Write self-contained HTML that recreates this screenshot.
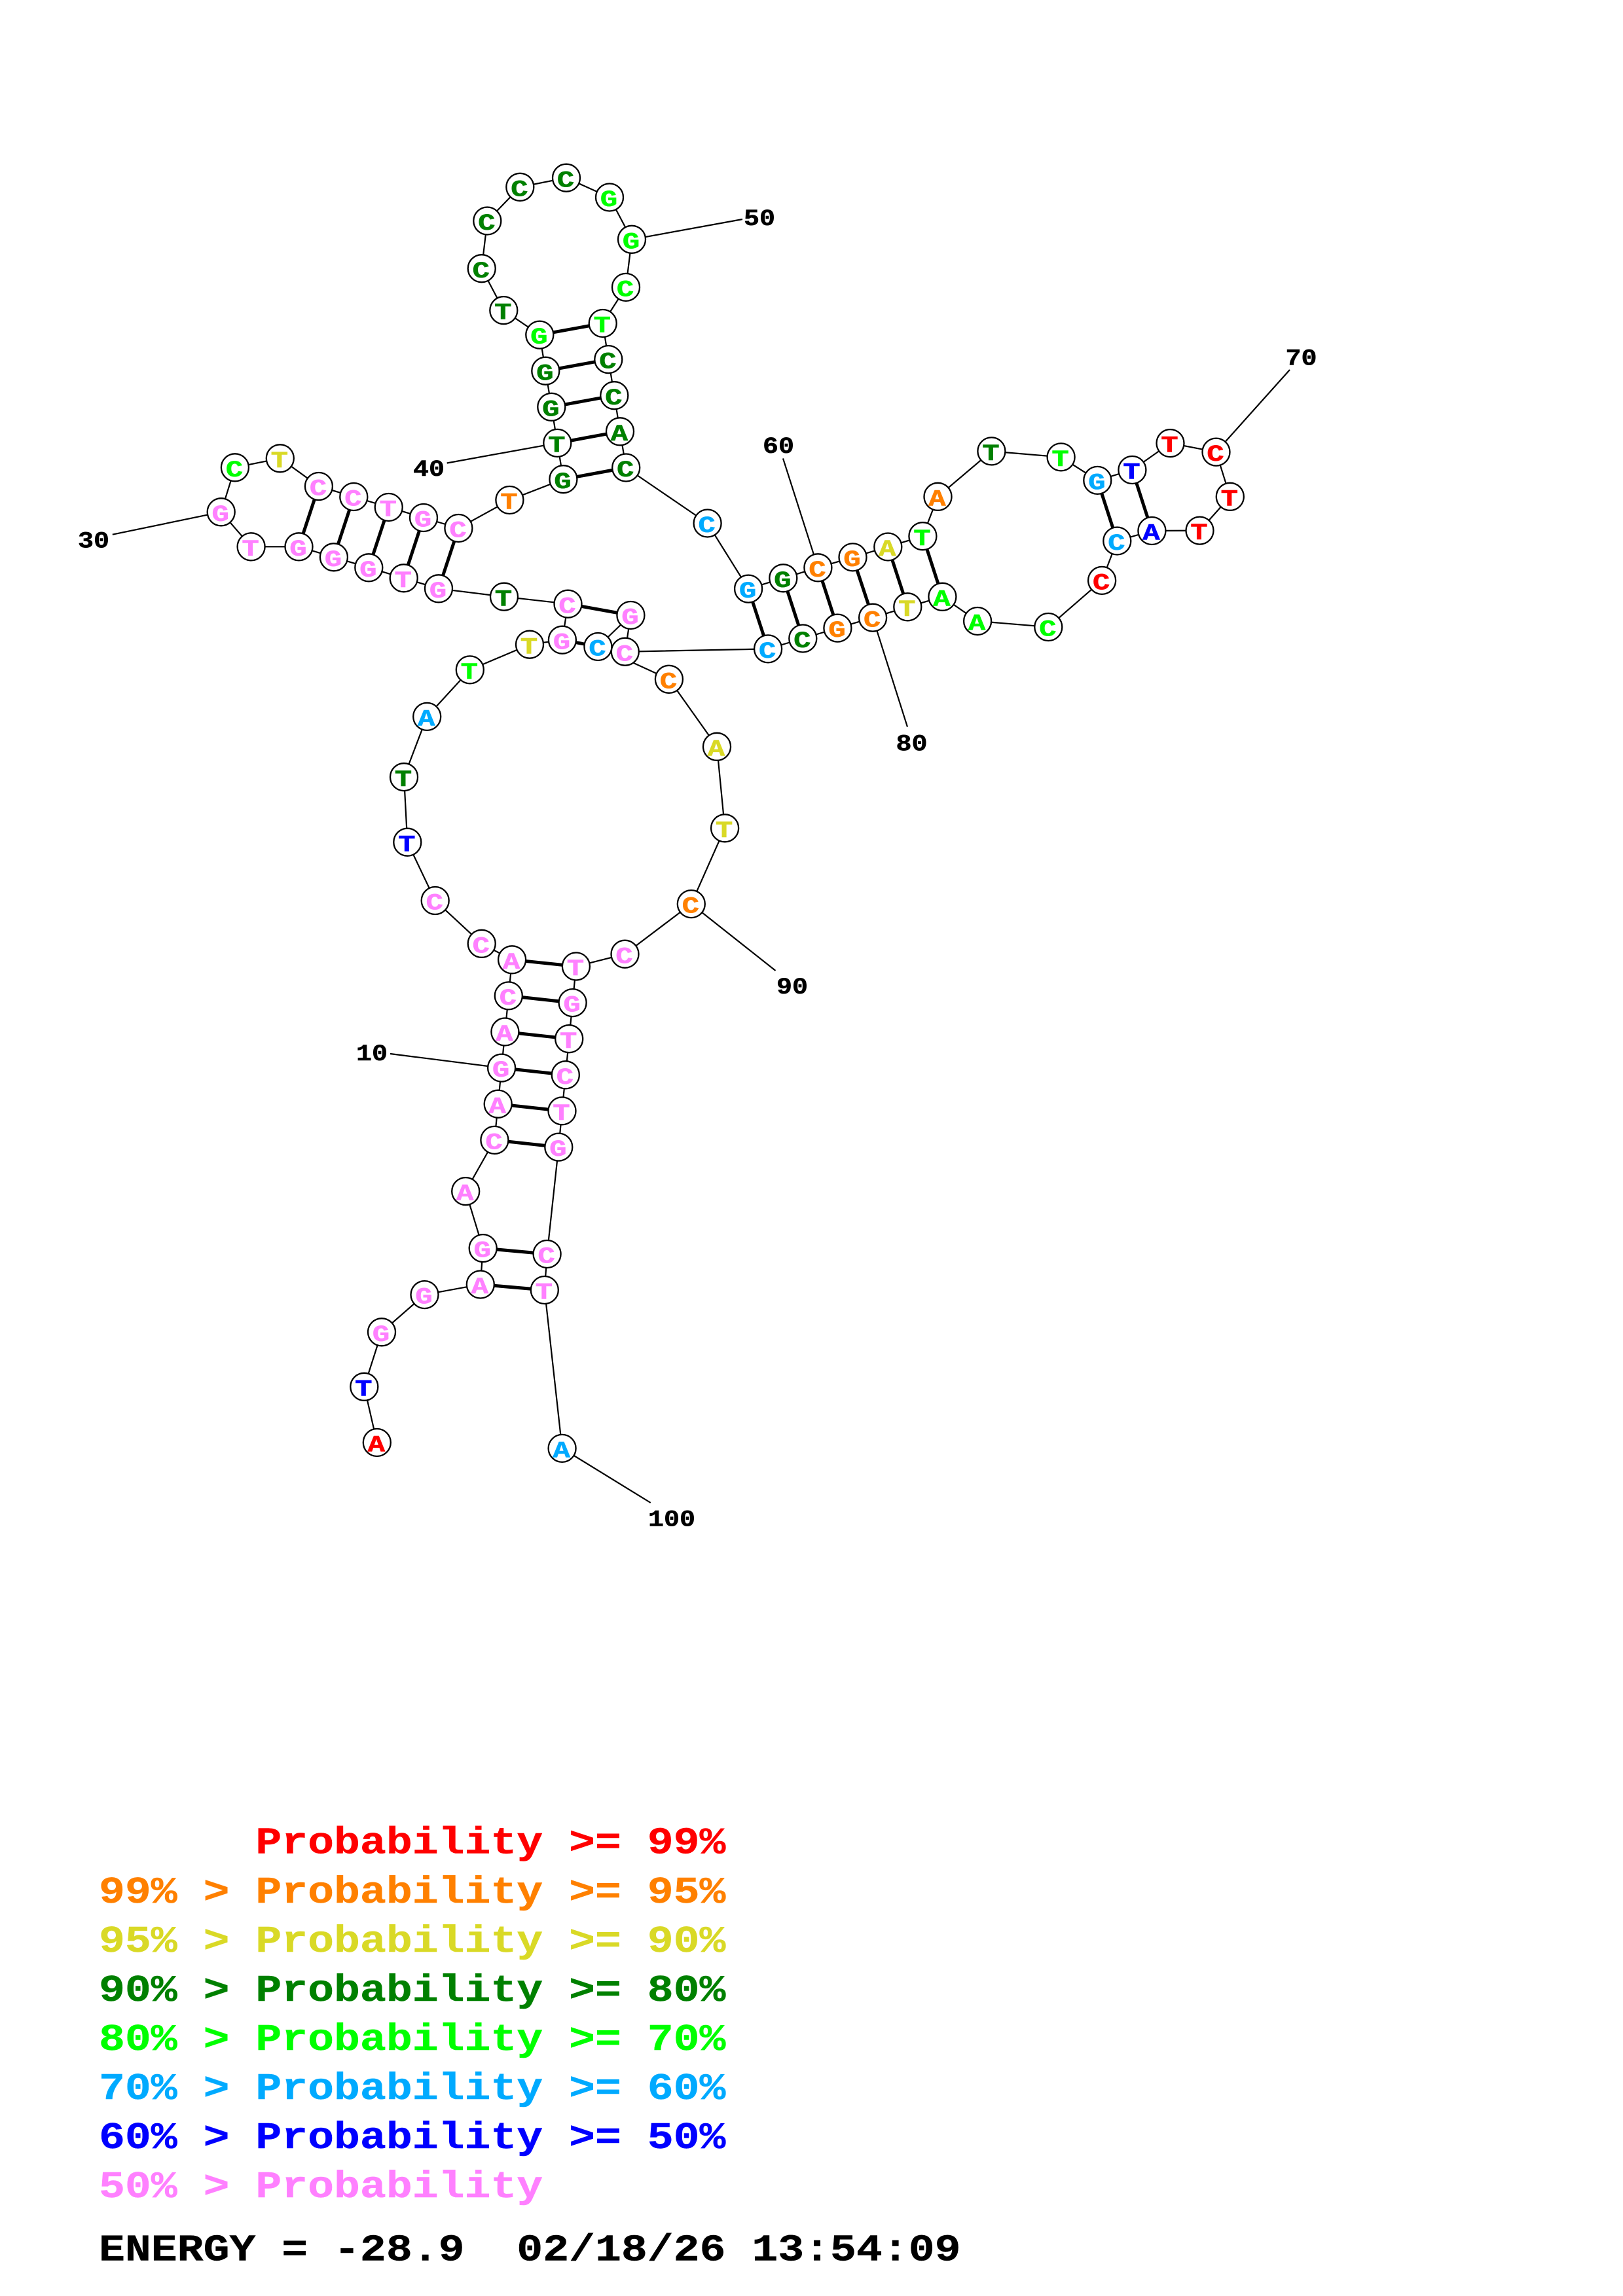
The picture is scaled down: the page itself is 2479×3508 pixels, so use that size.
<!DOCTYPE html>
<html><head><meta charset="utf-8"><style>
html,body{margin:0;padding:0;background:#fff}
svg{display:block}
text{font-family:"Liberation Mono",monospace;font-weight:bold;stroke-width:0}
.n circle{fill:#fff;stroke:#000;stroke-width:2.3}
.n text{font-size:44px;text-anchor:middle;stroke-width:.7;transform:translate(-1px,13.6px) scale(1,.8)}
.l text{font-size:40px;text-anchor:middle;fill:#000;stroke:#000;stroke-width:.6}
.g text{font-size:66.5px;white-space:pre;stroke-width:.5}
.r{fill:#f00;stroke:#f00}.o{fill:#ff8000;stroke:#ff8000}.y{fill:#d9d926;stroke:#d9d926}.d{fill:#008000;stroke:#008000}.e{fill:#0f0;stroke:#0f0}.b{fill:#0af;stroke:#0af}.u{fill:#00f;stroke:#00f}.p{fill:#ff80ff;stroke:#ff80ff}
</style></head><body>
<svg xmlns="http://www.w3.org/2000/svg" width="2479" height="3508" viewBox="0 0 2479 3508">
<rect width="2479" height="3508" fill="#fff"/>
<path fill="none" stroke="#000" stroke-width="2.2" d="M575.8 2204L556.3 2118.8L583 2035.3L648.5 1978.1L733.8 1962.5L737.7 1907.1L711.2 1820.1L755.4 1741.9L760.7 1686.7L766.1 1631.6L771.4 1576.5L776.8 1521.4L782.1 1466.3L735.7 1441.8L664.7 1376L622.3 1286.7L617 1187.2L652.2 1094.9L717.8 1023.4L809 984.7L858.9 977.7L867.5 922.7L770 911.7L670 899.3L616.7 883.3L563.3 867.3L509.9 851.3L456.5 835.3L383.6 835.3L337.7 782.3L358.9 714.3L427.8 700.3L486.9 743L540.3 759L593.7 775L647 791L700.4 807L778.4 764L860.4 732.2L851.3 676.9L842.3 621.8L833.3 566.7L824.3 511.6L769.3 474.1L735.7 410.2L744.3 337.5L794.3 285.8L865 271.7L931 301.5L965 365.8L956 438.9L920.7 494L929.3 549.1L938.3 604.2L947 659.3L956.2 714.5L1080.6 799.5L1143.1 899.6L1196.3 883.3L1249.4 867.3L1302.5 851.4L1356.3 835.5L1409.4 819.2L1432.5 758.8L1514.4 689.4L1620.6 698.4L1676.3 733.9L1729.4 718L1787.5 677.1L1857.5 690.6L1878.8 758.8L1832.5 810.6L1759.4 811L1706.3 826.5L1683.1 886.9L1601.3 958L1493.1 949L1439.4 911.8L1386.3 927.3L1333.1 943.7L1279.4 959.6L1226.3 975.5L1173.1 991.4L954.8 995.7L963.4 940L913.4 988L1021.9 1037.8L1095 1140.8L1107.1 1265.3L1055.8 1381.1L954.5 1457.7L879.9 1476.5L874.6 1532.1L869.2 1587.2L863.8 1642.3L858.5 1697.4L853.3 1752.6L835.6 1916L831.8 1971L858.6 2212.9"/>
<path fill="none" stroke="#000" stroke-width="2.2" d="M766.1 1631.6L596 1610M337.7 782.3L171.8 816.7M851.3 676.9L682.7 707.5M965 365.8L1134 335M1249.4 867.3L1196 700.4M1857.5 690.6L1970 565M1333.1 943.7L1386 1110.6M1055.8 1381.1L1184.5 1483M858.6 2212.9L993.7 2296"/>
<path fill="none" stroke="#000" stroke-width="5" d="M733.8 1962.5L831.8 1971M737.7 1907.1L835.6 1916M755.4 1741.9L853.3 1752.6M760.7 1686.7L858.5 1697.4M766.1 1631.6L863.8 1642.3M771.4 1576.5L869.2 1587.2M776.8 1521.4L874.6 1532.1M782.1 1466.3L879.9 1476.5M858.9 977.7L913.4 988M867.5 922.7L963.4 940M486.9 743L456.5 835.3M540.3 759L509.9 851.3M593.7 775L563.3 867.3M647 791L616.7 883.3M700.4 807L670 899.3M860.4 732.2L956.2 714.5M851.3 676.9L947 659.3M842.3 621.8L938.3 604.2M833.3 566.7L929.3 549.1M824.3 511.6L920.7 494M1143.1 899.6L1173.1 991.4M1196.3 883.3L1226.3 975.5M1249.4 867.3L1279.4 959.6M1302.5 851.4L1333.1 943.7M1356.3 835.5L1386.3 927.3M1409.4 819.2L1439.4 911.8M1676.3 733.9L1706.3 826.5M1729.4 718L1759.4 811"/>
<g class="n">
<g class="r" transform="translate(575.8 2204)"><circle r="21"/><text>A</text></g>
<g class="u" transform="translate(556.3 2118.8)"><circle r="21"/><text>T</text></g>
<g class="p" transform="translate(583 2035.3)"><circle r="21"/><text>G</text></g>
<g class="p" transform="translate(648.5 1978.1)"><circle r="21"/><text>G</text></g>
<g class="p" transform="translate(733.8 1962.5)"><circle r="21"/><text>A</text></g>
<g class="p" transform="translate(737.7 1907.1)"><circle r="21"/><text>G</text></g>
<g class="p" transform="translate(711.2 1820.1)"><circle r="21"/><text>A</text></g>
<g class="p" transform="translate(755.4 1741.9)"><circle r="21"/><text>C</text></g>
<g class="p" transform="translate(760.7 1686.7)"><circle r="21"/><text>A</text></g>
<g class="p" transform="translate(766.1 1631.6)"><circle r="21"/><text>G</text></g>
<g class="p" transform="translate(771.4 1576.5)"><circle r="21"/><text>A</text></g>
<g class="p" transform="translate(776.8 1521.4)"><circle r="21"/><text>C</text></g>
<g class="p" transform="translate(782.1 1466.3)"><circle r="21"/><text>A</text></g>
<g class="p" transform="translate(735.7 1441.8)"><circle r="21"/><text>C</text></g>
<g class="p" transform="translate(664.7 1376)"><circle r="21"/><text>C</text></g>
<g class="u" transform="translate(622.3 1286.7)"><circle r="21"/><text>T</text></g>
<g class="d" transform="translate(617 1187.2)"><circle r="21"/><text>T</text></g>
<g class="b" transform="translate(652.2 1094.9)"><circle r="21"/><text>A</text></g>
<g class="e" transform="translate(717.8 1023.4)"><circle r="21"/><text>T</text></g>
<g class="y" transform="translate(809 984.7)"><circle r="21"/><text>T</text></g>
<g class="p" transform="translate(858.9 977.7)"><circle r="21"/><text>G</text></g>
<g class="p" transform="translate(867.5 922.7)"><circle r="21"/><text>C</text></g>
<g class="d" transform="translate(770 911.7)"><circle r="21"/><text>T</text></g>
<g class="p" transform="translate(670 899.3)"><circle r="21"/><text>G</text></g>
<g class="p" transform="translate(616.7 883.3)"><circle r="21"/><text>T</text></g>
<g class="p" transform="translate(563.3 867.3)"><circle r="21"/><text>G</text></g>
<g class="p" transform="translate(509.9 851.3)"><circle r="21"/><text>G</text></g>
<g class="p" transform="translate(456.5 835.3)"><circle r="21"/><text>G</text></g>
<g class="p" transform="translate(383.6 835.3)"><circle r="21"/><text>T</text></g>
<g class="p" transform="translate(337.7 782.3)"><circle r="21"/><text>G</text></g>
<g class="e" transform="translate(358.9 714.3)"><circle r="21"/><text>C</text></g>
<g class="y" transform="translate(427.8 700.3)"><circle r="21"/><text>T</text></g>
<g class="p" transform="translate(486.9 743)"><circle r="21"/><text>C</text></g>
<g class="p" transform="translate(540.3 759)"><circle r="21"/><text>C</text></g>
<g class="p" transform="translate(593.7 775)"><circle r="21"/><text>T</text></g>
<g class="p" transform="translate(647 791)"><circle r="21"/><text>G</text></g>
<g class="p" transform="translate(700.4 807)"><circle r="21"/><text>C</text></g>
<g class="o" transform="translate(778.4 764)"><circle r="21"/><text>T</text></g>
<g class="d" transform="translate(860.4 732.2)"><circle r="21"/><text>G</text></g>
<g class="d" transform="translate(851.3 676.9)"><circle r="21"/><text>T</text></g>
<g class="d" transform="translate(842.3 621.8)"><circle r="21"/><text>G</text></g>
<g class="d" transform="translate(833.3 566.7)"><circle r="21"/><text>G</text></g>
<g class="e" transform="translate(824.3 511.6)"><circle r="21"/><text>G</text></g>
<g class="d" transform="translate(769.3 474.1)"><circle r="21"/><text>T</text></g>
<g class="d" transform="translate(735.7 410.2)"><circle r="21"/><text>C</text></g>
<g class="d" transform="translate(744.3 337.5)"><circle r="21"/><text>C</text></g>
<g class="d" transform="translate(794.3 285.8)"><circle r="21"/><text>C</text></g>
<g class="d" transform="translate(865 271.7)"><circle r="21"/><text>C</text></g>
<g class="e" transform="translate(931 301.5)"><circle r="21"/><text>G</text></g>
<g class="e" transform="translate(965 365.8)"><circle r="21"/><text>G</text></g>
<g class="e" transform="translate(956 438.9)"><circle r="21"/><text>C</text></g>
<g class="e" transform="translate(920.7 494)"><circle r="21"/><text>T</text></g>
<g class="d" transform="translate(929.3 549.1)"><circle r="21"/><text>C</text></g>
<g class="d" transform="translate(938.3 604.2)"><circle r="21"/><text>C</text></g>
<g class="d" transform="translate(947 659.3)"><circle r="21"/><text>A</text></g>
<g class="d" transform="translate(956.2 714.5)"><circle r="21"/><text>C</text></g>
<g class="b" transform="translate(1080.6 799.5)"><circle r="21"/><text>C</text></g>
<g class="b" transform="translate(1143.1 899.6)"><circle r="21"/><text>G</text></g>
<g class="d" transform="translate(1196.3 883.3)"><circle r="21"/><text>G</text></g>
<g class="o" transform="translate(1249.4 867.3)"><circle r="21"/><text>C</text></g>
<g class="o" transform="translate(1302.5 851.4)"><circle r="21"/><text>G</text></g>
<g class="y" transform="translate(1356.3 835.5)"><circle r="21"/><text>A</text></g>
<g class="e" transform="translate(1409.4 819.2)"><circle r="21"/><text>T</text></g>
<g class="o" transform="translate(1432.5 758.8)"><circle r="21"/><text>A</text></g>
<g class="d" transform="translate(1514.4 689.4)"><circle r="21"/><text>T</text></g>
<g class="e" transform="translate(1620.6 698.4)"><circle r="21"/><text>T</text></g>
<g class="b" transform="translate(1676.3 733.9)"><circle r="21"/><text>G</text></g>
<g class="u" transform="translate(1729.4 718)"><circle r="21"/><text>T</text></g>
<g class="r" transform="translate(1787.5 677.1)"><circle r="21"/><text>T</text></g>
<g class="r" transform="translate(1857.5 690.6)"><circle r="21"/><text>C</text></g>
<g class="r" transform="translate(1878.8 758.8)"><circle r="21"/><text>T</text></g>
<g class="r" transform="translate(1832.5 810.6)"><circle r="21"/><text>T</text></g>
<g class="u" transform="translate(1759.4 811)"><circle r="21"/><text>A</text></g>
<g class="b" transform="translate(1706.3 826.5)"><circle r="21"/><text>C</text></g>
<g class="r" transform="translate(1683.1 886.9)"><circle r="21"/><text>C</text></g>
<g class="e" transform="translate(1601.3 958)"><circle r="21"/><text>C</text></g>
<g class="e" transform="translate(1493.1 949)"><circle r="21"/><text>A</text></g>
<g class="e" transform="translate(1439.4 911.8)"><circle r="21"/><text>A</text></g>
<g class="y" transform="translate(1386.3 927.3)"><circle r="21"/><text>T</text></g>
<g class="o" transform="translate(1333.1 943.7)"><circle r="21"/><text>C</text></g>
<g class="o" transform="translate(1279.4 959.6)"><circle r="21"/><text>G</text></g>
<g class="d" transform="translate(1226.3 975.5)"><circle r="21"/><text>C</text></g>
<g class="b" transform="translate(1173.1 991.4)"><circle r="21"/><text>C</text></g>
<g class="b" transform="translate(913.4 988)"><circle r="21"/><text>C</text></g>
<g class="p" transform="translate(954.8 995.7)"><circle r="21"/><text>C</text></g>
<g class="p" transform="translate(963.4 940)"><circle r="21"/><text>G</text></g>
<g class="o" transform="translate(1021.9 1037.8)"><circle r="21"/><text>C</text></g>
<g class="y" transform="translate(1095 1140.8)"><circle r="21"/><text>A</text></g>
<g class="y" transform="translate(1107.1 1265.3)"><circle r="21"/><text>T</text></g>
<g class="o" transform="translate(1055.8 1381.1)"><circle r="21"/><text>C</text></g>
<g class="p" transform="translate(954.5 1457.7)"><circle r="21"/><text>C</text></g>
<g class="p" transform="translate(879.9 1476.5)"><circle r="21"/><text>T</text></g>
<g class="p" transform="translate(874.6 1532.1)"><circle r="21"/><text>G</text></g>
<g class="p" transform="translate(869.2 1587.2)"><circle r="21"/><text>T</text></g>
<g class="p" transform="translate(863.8 1642.3)"><circle r="21"/><text>C</text></g>
<g class="p" transform="translate(858.5 1697.4)"><circle r="21"/><text>T</text></g>
<g class="p" transform="translate(853.3 1752.6)"><circle r="21"/><text>G</text></g>
<g class="p" transform="translate(835.6 1916)"><circle r="21"/><text>C</text></g>
<g class="p" transform="translate(831.8 1971)"><circle r="21"/><text>T</text></g>
<g class="b" transform="translate(858.6 2212.9)"><circle r="21"/><text>A</text></g>
</g>
<g class="l">
<text transform="translate(568 1620) scale(1 .87)">10</text>
<text transform="translate(143 836.7) scale(1 .87)">30</text>
<text transform="translate(655 727) scale(1 .87)">40</text>
<text transform="translate(1160 344) scale(1 .87)">50</text>
<text transform="translate(1189 692) scale(1 .87)">60</text>
<text transform="translate(1987.5 557.5) scale(1 .87)">70</text>
<text transform="translate(1392.5 1146.5) scale(1 .87)">80</text>
<text transform="translate(1210 1518) scale(1 .87)">90</text>
<text transform="translate(1026 2331.7) scale(1 .87)">100</text>
</g>
<g class="g">
<text class="r" transform="translate(151 2831.7) scale(1 .86)" xml:space="preserve">      Probability &gt;= 99%</text>
<text class="o" transform="translate(151 2906.8) scale(1 .86)" xml:space="preserve">99% &gt; Probability &gt;= 95%</text>
<text class="y" transform="translate(151 2981.9) scale(1 .86)" xml:space="preserve">95% &gt; Probability &gt;= 90%</text>
<text class="d" transform="translate(151 3057) scale(1 .86)" xml:space="preserve">90% &gt; Probability &gt;= 80%</text>
<text class="e" transform="translate(151 3132) scale(1 .86)" xml:space="preserve">80% &gt; Probability &gt;= 70%</text>
<text class="b" transform="translate(151 3207) scale(1 .86)" xml:space="preserve">70% &gt; Probability &gt;= 60%</text>
<text class="u" transform="translate(151 3282) scale(1 .86)" xml:space="preserve">60% &gt; Probability &gt;= 50%</text>
<text class="p" transform="translate(151 3357) scale(1 .86)" xml:space="preserve">50% &gt; Probability</text>
<text fill="#000" stroke="#000" transform="translate(151 3453.7) scale(1 .86)" xml:space="preserve">ENERGY = -28.9  02/18/26 13:54:09</text>
</g>
</svg>
</body></html>
